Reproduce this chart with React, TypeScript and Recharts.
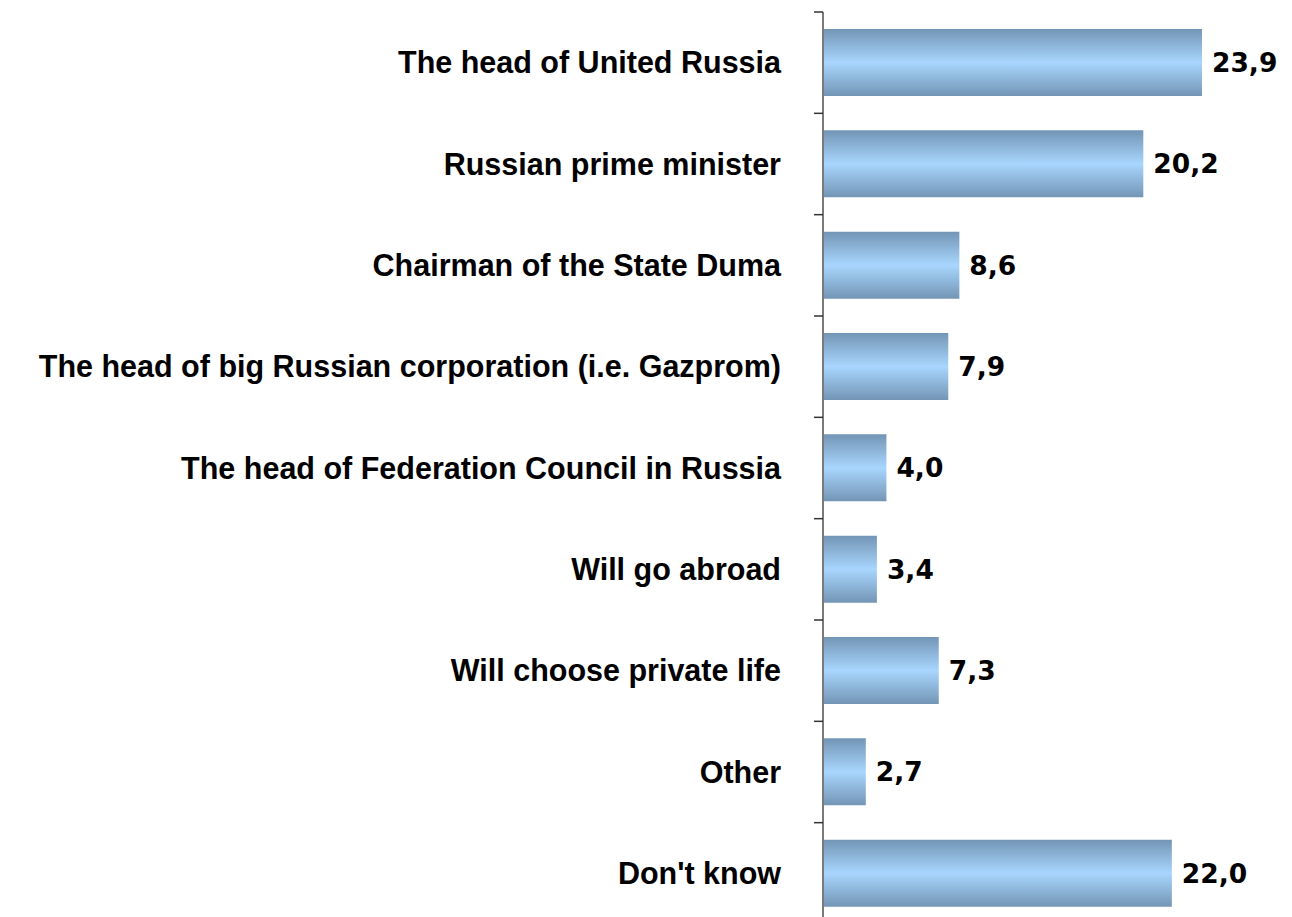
import React from 'react';
import { BarChart, Bar, XAxis, YAxis, LabelList } from 'recharts';

const categories = [
  'The head of United Russia',
  'Russian prime minister',
  'Chairman of the State Duma',
  'The head of big Russian corporation (i.e. Gazprom)',
  'The head of Federation Council in Russia',
  'Will go abroad',
  'Will choose private life',
  'Other',
  "Don't know",
];

const shares = [23.9, 20.2, 8.6, 7.9, 4.0, 3.4, 7.3, 2.7, 22.0];

const rows = categories.map((name, i) => ({ name, value: shares[i] }));

const fmt = (v: any) => Number(v).toFixed(1).replace('.', ',');

// category label plus the small tick marks that sit on the band edges
const CategoryTick = (props: any) => {
  const { x, y, payload, index, visibleTicksCount } = props;
  const half = payload && payload.offset ? payload.offset : 0;
  const isLast = index === (visibleTicksCount ?? categories.length) - 1;
  return (
    <g>
      <line x1={x - 9} x2={x} y1={y - half} y2={y - half} stroke="#333" strokeWidth={1.5} />
      {isLast && <line x1={x - 9} x2={x} y1={y + half} y2={y + half} stroke="#333" strokeWidth={1.5} />}
      <text
        x={x - 42}
        y={y}
        dy="0.355em"
        textAnchor="end"
        fill="#000"
        style={{ fontFamily: '"Liberation Sans", Arial, sans-serif', fontWeight: 'bold', fontSize: 30.5 }}
      >
        {payload.value}
      </text>
    </g>
  );
};

const App: React.FC = () => {
  return (
    <div style={{ width: 1284, height: 920, background: '#fff' }}>
      <BarChart
        width={1284}
        height={920}
        data={rows}
        layout="vertical"
        margin={{ top: 4, right: 25, bottom: 4, left: 0 }}
      >
        <defs>
          <linearGradient id="barGrad" x1="0" y1="0" x2="0" y2="1">
            <stop offset="0%" stopColor="#7395b5" />
            <stop offset="50%" stopColor="#a8d6fe" />
            <stop offset="100%" stopColor="#7395b5" />
          </linearGradient>
        </defs>
        <XAxis type="number" domain={[0, 28]} hide />
        <YAxis
          type="category"
          dataKey="name"
          width={815}
          tickSize={0}
          tickMargin={0}
          interval={0}
          tickLine={false}
          axisLine={{ stroke: '#7a7a7a', strokeWidth: 2 }}
          tick={<CategoryTick />}
        />
        <Bar dataKey="value" fill="url(#barGrad)" barSize={67} isAnimationActive={false}>
          <LabelList
            dataKey="value"
            position="right"
            offset={10}
            formatter={fmt}
            style={{ fontFamily: '"DejaVu Sans", Verdana, sans-serif', fontWeight: 'bold', fontSize: 26.5, fill: '#000' }}
          />
        </Bar>
      </BarChart>
    </div>
  );
};

export default App;
